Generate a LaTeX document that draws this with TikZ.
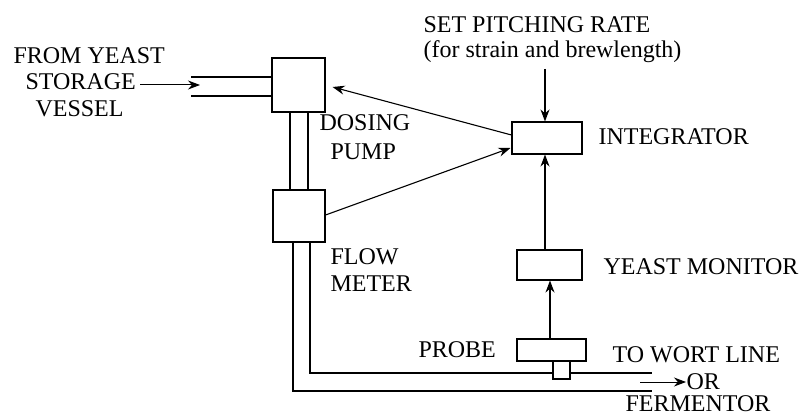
\documentclass[tikz,border=0pt]{standalone}
\usepackage{fontspec}
\setmainfont{Liberation Serif}
\usetikzlibrary{arrows.meta,calc}
\begin{document}
\begin{tikzpicture}[x=1pt,y=-1pt,
  line width=1.1pt,
  box/.style={draw,rectangle,inner sep=0pt,fill=white},
  lbl/.style={anchor=base west,inner sep=0pt,font=\fontsize{24}{28}\selectfont},
  arr/.style={-{Stealth[length=12pt,width=9pt]}},
  pipe/.style={line width=1.1pt}]
\useasboundingbox (0,0) rectangle (808,417);
\fill[white] (0,0) rectangle (808,417);
% boxes
\node[box,minimum width=53pt,minimum height=54pt] (pump) at (298.5,85) {};
\node[box,minimum width=52pt,minimum height=52pt] (flow) at (299,216) {};
\node[box,minimum width=70pt,minimum height=32pt] (integ) at (547,138) {};
\node[box,minimum width=65pt,minimum height=30pt] (monitor) at (549.5,265) {};
\node[box,minimum width=69pt,minimum height=22pt] (probe) at (551.5,350) {};
\node[box,minimum width=17pt,minimum height=18pt] (stub) at (561.5,370) {};
% texts
\node[lbl] (t1) at (13,64) {FROM YEAST};
\node[lbl] (t2) at (25,90) {STORAGE};
\node[lbl] (t3) at (35,117) {VESSEL};
\node[lbl] (t4) at (319,131) {DOSING};
\node[lbl] (t5) at (330,159) {PUMP};
\node[lbl] (t6) at (330,264) {FLOW};
\node[lbl] (t7) at (330,291) {METER};
\node[lbl] (t8) at (423,33) {SET PITCHING RATE};
\node[lbl] (t9) at (423,58) {(for strain and brewlength)};
\node[lbl] (t10) at (598,144) {INTEGRATOR};
\node[lbl] (t11) at (603,274) {YEAST MONITOR};
\node[lbl] (t12) at (418,357) {PROBE};
\node[lbl] (t13) at (612,362) {TO WORT LINE};
\node[lbl] (t14) at (686,389) {OR};
\node[lbl] (t15) at (625,411) {FERMENTOR};
% coordinates
\coordinate (in1) at (191,77);
\coordinate (in2) at (191,96);
\coordinate (inarr) at (200,85);
\coordinate (setp) at (545,69);
\coordinate (r1) at (310,373);
\coordinate (r2) at (293,391);
\coordinate (e1) at (652,373);
\coordinate (e2) at (652,391);
\coordinate (oa) at (640,382);
% inlet pipe
\draw[pipe] (in1) -- (in1 -| pump.west);
\draw[pipe] (in2) -- (in2 -| pump.west);
\draw[arr,line width=1pt] (t2.east |- inarr) ++(4,0) -- (inarr);
% pipe pump to flow meter
\draw[pipe] (pump.south -| 290,0) -- (flow.north -| 290,0);
\draw[pipe] (pump.south -| 308,0) -- (flow.north -| 308,0);
% return pipes
\draw[pipe] (flow.south -| r1) -- (r1) -- (stub.west |- r1);
\draw[pipe] (stub.east |- r1) -- (e1);
\draw[pipe] (flow.south -| r2) -- (r2) -- (e2);
\draw[arr,line width=1pt] (oa) -- (t14.west |- oa);
% signal arrows
\draw[arr] (integ.west |- 0,135) -- ($(pump.east)+(7,2)$);
\draw[arr] (flow.east |- 0,215) -- ($(integ.west)+(-1,10)$);
\draw[arr] (setp) -- (integ.north -| setp);
\draw[arr] (monitor.north -| setp) -- (integ.south -| setp);
\draw[arr] (probe.north -| 550,0) -- (monitor.south -| 550,0);
\end{tikzpicture}
\end{document}
